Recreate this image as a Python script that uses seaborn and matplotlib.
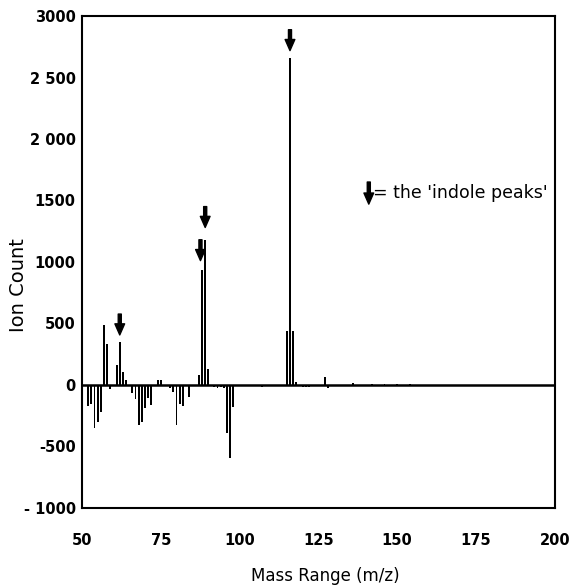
import pandas as pd
import matplotlib
matplotlib.use("Agg")
import matplotlib.pyplot as plt
import seaborn as sns

# =========================
# DATA
# =========================
mass = [52, 53, 54, 55, 56, 57, 58, 59,
        61, 62, 63, 64,
        66, 67, 68, 69, 70, 71, 72,
        74, 75,
        78, 79, 80, 81, 82,
        84,
        87, 88, 89, 90,
        91, 92, 93, 94, 95,
        96, 97, 98, 99,
        101, 103, 105, 107, 109, 111,
        115, 116, 117, 118,
        120, 121, 122, 124,
        127, 128,
        131, 136,
        142, 146, 150, 154]
ion_count = [-170, -160, -350, -300, -220, 490, 330, -35,
             160, 345, 100, 40,
             -70, -120, -330, -300, -190, -110, -165,
             40, 40,
             -25, -60, -325, -160, -170,
             -100,
             80, 930, 1180, 130,
             -10, -20, -25, -20, -25,
             -390, -595, -180, -10,
             -8, -10, -12, -15, -10, -12,
             440, 2660, 440, 25,
             -15, -20, -15, -10,
             65, -30,
             -8, 10,
             6, 5, 6, 5]

# indole peak markers (arrow x, arrow tip height)
arrow_mass = [62, 87.6, 89.1, 116]
arrow_tip = [405, 1010, 1280, 2720]
arrow_len = 170

y_ticks = [-1000, -500, 0, 500, 1000, 1500, 2000, 2500, 3000]
y_tick_labels = ["- 1000", "-500", "0", "500", "1000", "1500", "2 000", "2 500", "3000"]
x_ticks = [50, 75, 100, 125, 150, 175, 200]

df = pd.DataFrame({"mass": mass, "count": ion_count})

# =========================
# PLOT
# =========================
sns.set_style("white")
plt.rcParams['font.family'] = ['DejaVu Sans']
plt.rcParams['text.color'] = 'black'
plt.rcParams['axes.labelcolor'] = 'black'
plt.rcParams['xtick.color'] = 'black'
plt.rcParams['ytick.color'] = 'black'

fig = plt.figure(figsize=(5.69, 5.87), dpi=100)
ax = fig.add_axes([0.144, 0.1354, 0.831, 0.837])

sns.barplot(data=df, x="mass", y="count", native_scale=True, width=0.6,
            color="black", errorbar=None, linewidth=0, ax=ax)

ax.axhline(0, color="black", lw=1.8, zorder=3)

# arrows over the indole peaks
for xm, tip in zip(arrow_mass, arrow_tip):
    ax.annotate("", xy=(xm, tip), xytext=(xm, tip + arrow_len),
                arrowprops=dict(facecolor="black", edgecolor="black",
                                width=2.2, headwidth=7, headlength=8, shrink=0))

# key
ax.annotate("", xy=(141, 1470), xytext=(141, 1650),
            arrowprops=dict(facecolor="black", edgecolor="black",
                            width=2.2, headwidth=7, headlength=8, shrink=0))
ax.text(142.4, 1560, "= the 'indole peaks'", fontsize=12.5, va="center", ha="left")

ax.set_xlim(50, 200)
ax.set_ylim(-1000, 3000)
ax.set_xticks(x_ticks)
ax.set_xticklabels([str(t) for t in x_ticks], fontsize=10.5, fontweight="bold")
ax.set_yticks(y_ticks)
ax.set_yticklabels(y_tick_labels, fontsize=10.5, fontweight="bold")

ax.tick_params(axis="x", direction="in", length=7, width=1.5, pad=18)
ax.tick_params(axis="y", direction="inout", length=7, width=1.5, pad=1)

for side in ["top", "bottom", "left", "right"]:
    ax.spines[side].set_visible(True)
    ax.spines[side].set_color("black")
    ax.spines[side].set_linewidth(1.5)

ax.set_xlabel("Mass Range (m/z)", fontsize=12)
ax.set_ylabel("Ion Count", fontsize=14)
ax.xaxis.set_label_coords(0.514, -0.122)
ax.yaxis.set_label_coords(-0.115, 0.453)

plt.savefig("out.png", dpi=100)
